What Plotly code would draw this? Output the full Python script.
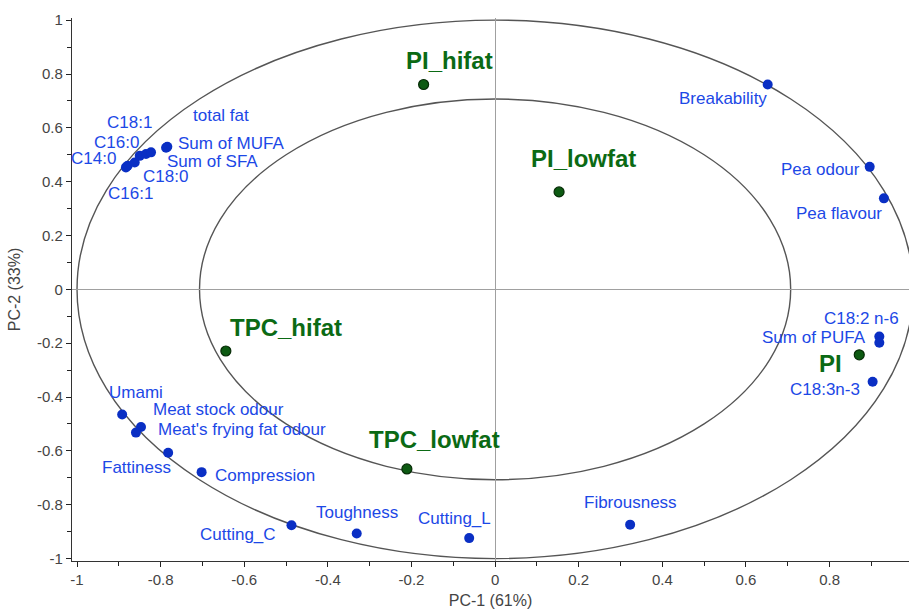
import plotly.graph_objects as go

# ---- data (loadings of variables and scores of samples) ----
var_names = ["C14:0", "C16:1", "C16:0", "C18:1", "C18:0", "Sum of SFA", "total fat", "Sum of MUFA",
             "Umami", "Meat stock odour", "Meat's frying fat odour", "Fattiness", "Compression",
             "Cutting_C", "Toughness", "Cutting_L", "Fibrousness", "Breakability", "Pea odour",
             "Pea flavour", "C18:2 n-6", "Sum of PUFA", "C18:3n-3"]
var_pc1 = [-0.883, -0.879, -0.862, -0.850, -0.835, -0.823, -0.787, -0.784,
           -0.892, -0.847, -0.859, -0.782, -0.702,
           -0.487, -0.331, -0.062, 0.323, 0.652, 0.896,
           0.930, 0.919, 0.919, 0.903]
var_pc2 = [0.453, 0.459, 0.471, 0.496, 0.503, 0.509, 0.526, 0.530,
           -0.465, -0.511, -0.532, -0.607, -0.679,
           -0.876, -0.907, -0.924, -0.874, 0.761, 0.455,
           0.338, -0.175, -0.198, -0.343]

sample_names = ["PI_hifat", "PI_lowfat", "TPC_hifat", "TPC_lowfat", "PI"]
sample_pc1 = [-0.171, 0.153, -0.644, -0.211, 0.871]
sample_pc2 = [0.761, 0.362, -0.229, -0.667, -0.243]

ellipse_radii = [1.0, 0.707]
x_ticks = [-1, -0.8, -0.6, -0.4, -0.2, 0, 0.2, 0.4, 0.6, 0.8]
y_ticks = [-1, -0.8, -0.6, -0.4, -0.2, 0, 0.2, 0.4, 0.6, 0.8, 1]

# ---- label placement (style) : (xanchor, xshift px, yshift px) ----
var_label_pos = {
    "C14:0": ("right", -8, 9), "C16:1": ("center", 3, -28), "C16:0": ("center", -18, 20),
    "C18:1": ("center", -10, 33), "C18:0": ("center", 19, -23), "Sum of SFA": ("left", 14, -9),
    "total fat": ("center", 55, 32), "Sum of MUFA": ("left", 9, 3),
    "Umami": ("center", 14, 22), "Meat stock odour": ("left", 10, 17),
    "Meat's frying fat odour": ("left", 20, 3), "Fattiness": ("center", -32, -15),
    "Compression": ("left", 11, -3), "Cutting_C": ("center", -53, -9),
    "Toughness": ("center", 0, 21), "Cutting_L": ("center", -15, 20),
    "Fibrousness": ("center", 0, 22), "Breakability": ("center", -45, -14),
    "Pea odour": ("right", -8, -3), "Pea flavour": ("center", -45, -15),
    "C18:2 n-6": ("center", -18, 18), "Sum of PUFA": ("right", -11, 5),
    "C18:3n-3": ("right", -11, -8),
}
sample_label_pos = {
    "PI_hifat": ("center", 26, 24), "PI_lowfat": ("center", 24, 33),
    "TPC_hifat": ("center", 60, 24), "TPC_lowfat": ("center", 28, 29),
    "PI": ("right", -15, -9),
}

BLUE_DOT = "#0a2fc4"
BLUE_TXT = "#1c48e6"
GREEN_DOT = "#0d5a12"
GREEN_TXT = "#0b6a14"
FONT = "Liberation Sans, Arial, sans-serif"

fig = go.Figure()

# correlation ellipses
for r in ellipse_radii:
    fig.add_shape(type="circle", xref="x", yref="y", x0=-r, x1=r, y0=-r, y1=r,
                  line=dict(color="#555555", width=1.4), layer="below")

fig.add_trace(go.Scatter(x=var_pc1, y=var_pc2, mode="markers",
                         marker=dict(size=10, color=BLUE_DOT, line=dict(width=0)),
                         hovertext=var_names, showlegend=False))
fig.add_trace(go.Scatter(x=sample_pc1, y=sample_pc2, mode="markers",
                         marker=dict(size=10, color=GREEN_DOT, line=dict(width=1.2, color="#062b06")),
                         hovertext=sample_names, showlegend=False))

for name, px, py in zip(var_names, var_pc1, var_pc2):
    xa, xs, ys = var_label_pos[name]
    fig.add_annotation(x=px, y=py, text=name, showarrow=False, xanchor=xa, yanchor="middle",
                       xshift=xs, yshift=ys, font=dict(family=FONT, size=17, color=BLUE_TXT))

for name, px, py in zip(sample_names, sample_pc1, sample_pc2):
    xa, xs, ys = sample_label_pos[name]
    fig.add_annotation(x=px, y=py, text="<b>%s</b>" % name, showarrow=False, xanchor=xa,
                       yanchor="middle", xshift=xs, yshift=ys,
                       font=dict(family=FONT, size=24, color=GREEN_TXT))

axis_common = dict(showgrid=False, zeroline=True, zerolinecolor="#a0a0a0", zerolinewidth=1.2,
                   showline=True, linecolor="#333333", linewidth=1.3,
                   ticks="outside", ticklen=5, tickcolor="#222222", tickwidth=1.3,
                   tickfont=dict(family=FONT, size=15, color="#444444"),
                   minor=dict(dtick=0.1, ticks="outside", ticklen=4, tickcolor="#222222", tickwidth=1.3))

fig.update_xaxes(range=[-1.012, 0.990], tickvals=x_ticks, ticktext=[("%g" % v) for v in x_ticks],
                 title=dict(text="PC-1 (61%)", font=dict(family=FONT, size=16, color="#444444"), standoff=7),
                 **axis_common)
fig.update_yaxes(range=[-1.009, 1.008], tickvals=y_ticks, ticktext=[("%g" % v) for v in y_ticks],
                 title=dict(text="PC-2 (33%)", font=dict(family=FONT, size=16, color="#444444"), standoff=12),
                 **axis_common)

fig.update_layout(width=909, height=611, plot_bgcolor="white", paper_bgcolor="white",
                  margin=dict(l=72, r=0, t=18, b=50), showlegend=False)

fig.write_html("out.html", config={"displayModeBar": False},
               post_script="document.body.style.margin='0';document.body.style.overflow='hidden';")
